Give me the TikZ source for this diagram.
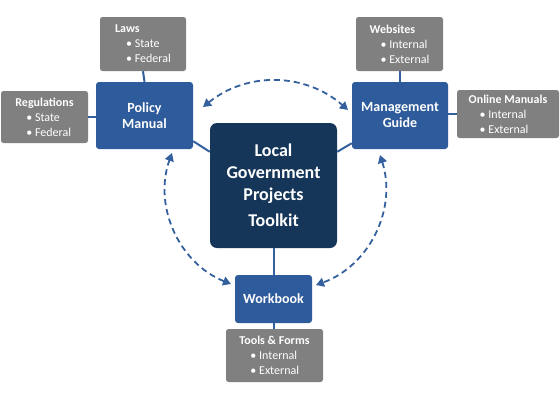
\documentclass[tikz,border=0pt]{standalone}
\usepackage{fontspec}
\setmainfont{Carlito}
\usetikzlibrary{arrows.meta}
\definecolor{bluebox}{RGB}{46,91,155}
\definecolor{navybox}{RGB}{21,54,89}
\definecolor{greybox}{RGB}{128,128,128}
\definecolor{linkblue}{RGB}{52,96,158}
\newcommand\gitem[1]{\hspace*{11pt}•~#1}
\begin{document}
\begin{tikzpicture}[x=1pt,y=-1pt,
  bluenode/.style={fill=bluebox, rounded corners=3pt, text=white,
    font=\bfseries\fontsize{14}{16}\selectfont, align=center, inner sep=0pt},
  navynode/.style={fill=navybox, rounded corners=7pt, text=white,
    font=\bfseries\fontsize{18}{22}\selectfont, align=center, inner sep=0pt},
  greynode/.style={fill=greybox, rounded corners=2.5pt, text=white,
    font=\fontsize{12}{15}\selectfont, align=left, inner sep=0pt},
  link/.style={draw=linkblue, line width=2pt},
  dasharrow/.style={draw=linkblue, line width=1.8pt, dash pattern=on 6pt off 4pt,
    {Triangle[length=8pt,width=9pt]}-{Triangle[length=8pt,width=9pt]}}
]
\useasboundingbox (0,0) rectangle (560,400);

% center
\node[navynode, minimum width=127pt, minimum height=125pt] (cen) at (273.5,185.5)
  {Local\\Government\\Projects\\[4pt]Toolkit};

% blue boxes
\node[bluenode, minimum width=97pt, minimum height=67pt] (pm) at (144.5,115.5) {Policy\\Manual};
\node[bluenode, minimum width=96pt, minimum height=67pt] (mg) at (400,115.5) {Management\\Guide};
\node[bluenode, minimum width=77pt, minimum height=48pt] (wb) at (273.5,299) {Workbook};

% grey boxes
\node[greynode, minimum width=86pt, minimum height=54pt] (laws) at (143,44)
  {{\bfseries Laws}\\\gitem{State}\\\gitem{Federal}};
\node[greynode, minimum width=87pt, minimum height=52pt] (regs) at (44.5,117)
  {{\bfseries Regulations}\\\gitem{State}\\\gitem{Federal}};
\node[greynode, minimum width=87pt, minimum height=54pt] (web) at (399.5,44)
  {{\bfseries Websites}\\\gitem{Internal}\\\gitem{External}};
\node[greynode, minimum width=102pt, minimum height=48pt] (om) at (508,114)
  {{\bfseries Online Manuals}\\\gitem{Internal}\\\gitem{External}};
\node[greynode, minimum width=97pt, minimum height=53pt] (tf) at (274.5,355.5)
  {{\bfseries Tools \& Forms}\\\gitem{Internal}\\\gitem{External}};

% connectors
\draw[link] (laws.south) -- (pm.north);
\draw[link] (regs.east) -- (regs.east -| pm.west);
\draw[link] (web.south) -- (web.south |- mg.north);
\draw[link] (om.west) -- (om.west -| mg.east);
\draw[link] ([yshift=8pt]pm.south east) -- ([yshift=-29pt]cen.north west);
\draw[link] ([yshift=6pt]mg.south west) -- ([yshift=-29pt]cen.north east);
\draw[link] (cen.south) -- (wb.north);
\draw[link] (wb.south) -- (wb.south |- tf.north);

% dashed arrows
\coordinate (t1) at (203,107);
\coordinate (t2) at (348,110);
\coordinate (l1) at (172,153);
\coordinate (l2) at (231,284);
\coordinate (r1) at (380,155);
\coordinate (r2) at (316,285);
\draw[dasharrow] (t1) to[bend left=40] (t2);
\draw[dasharrow] (l2) to[bend left=44] (l1);
\draw[dasharrow] (r1) to[bend left=44] (r2);
\end{tikzpicture}
\end{document}
